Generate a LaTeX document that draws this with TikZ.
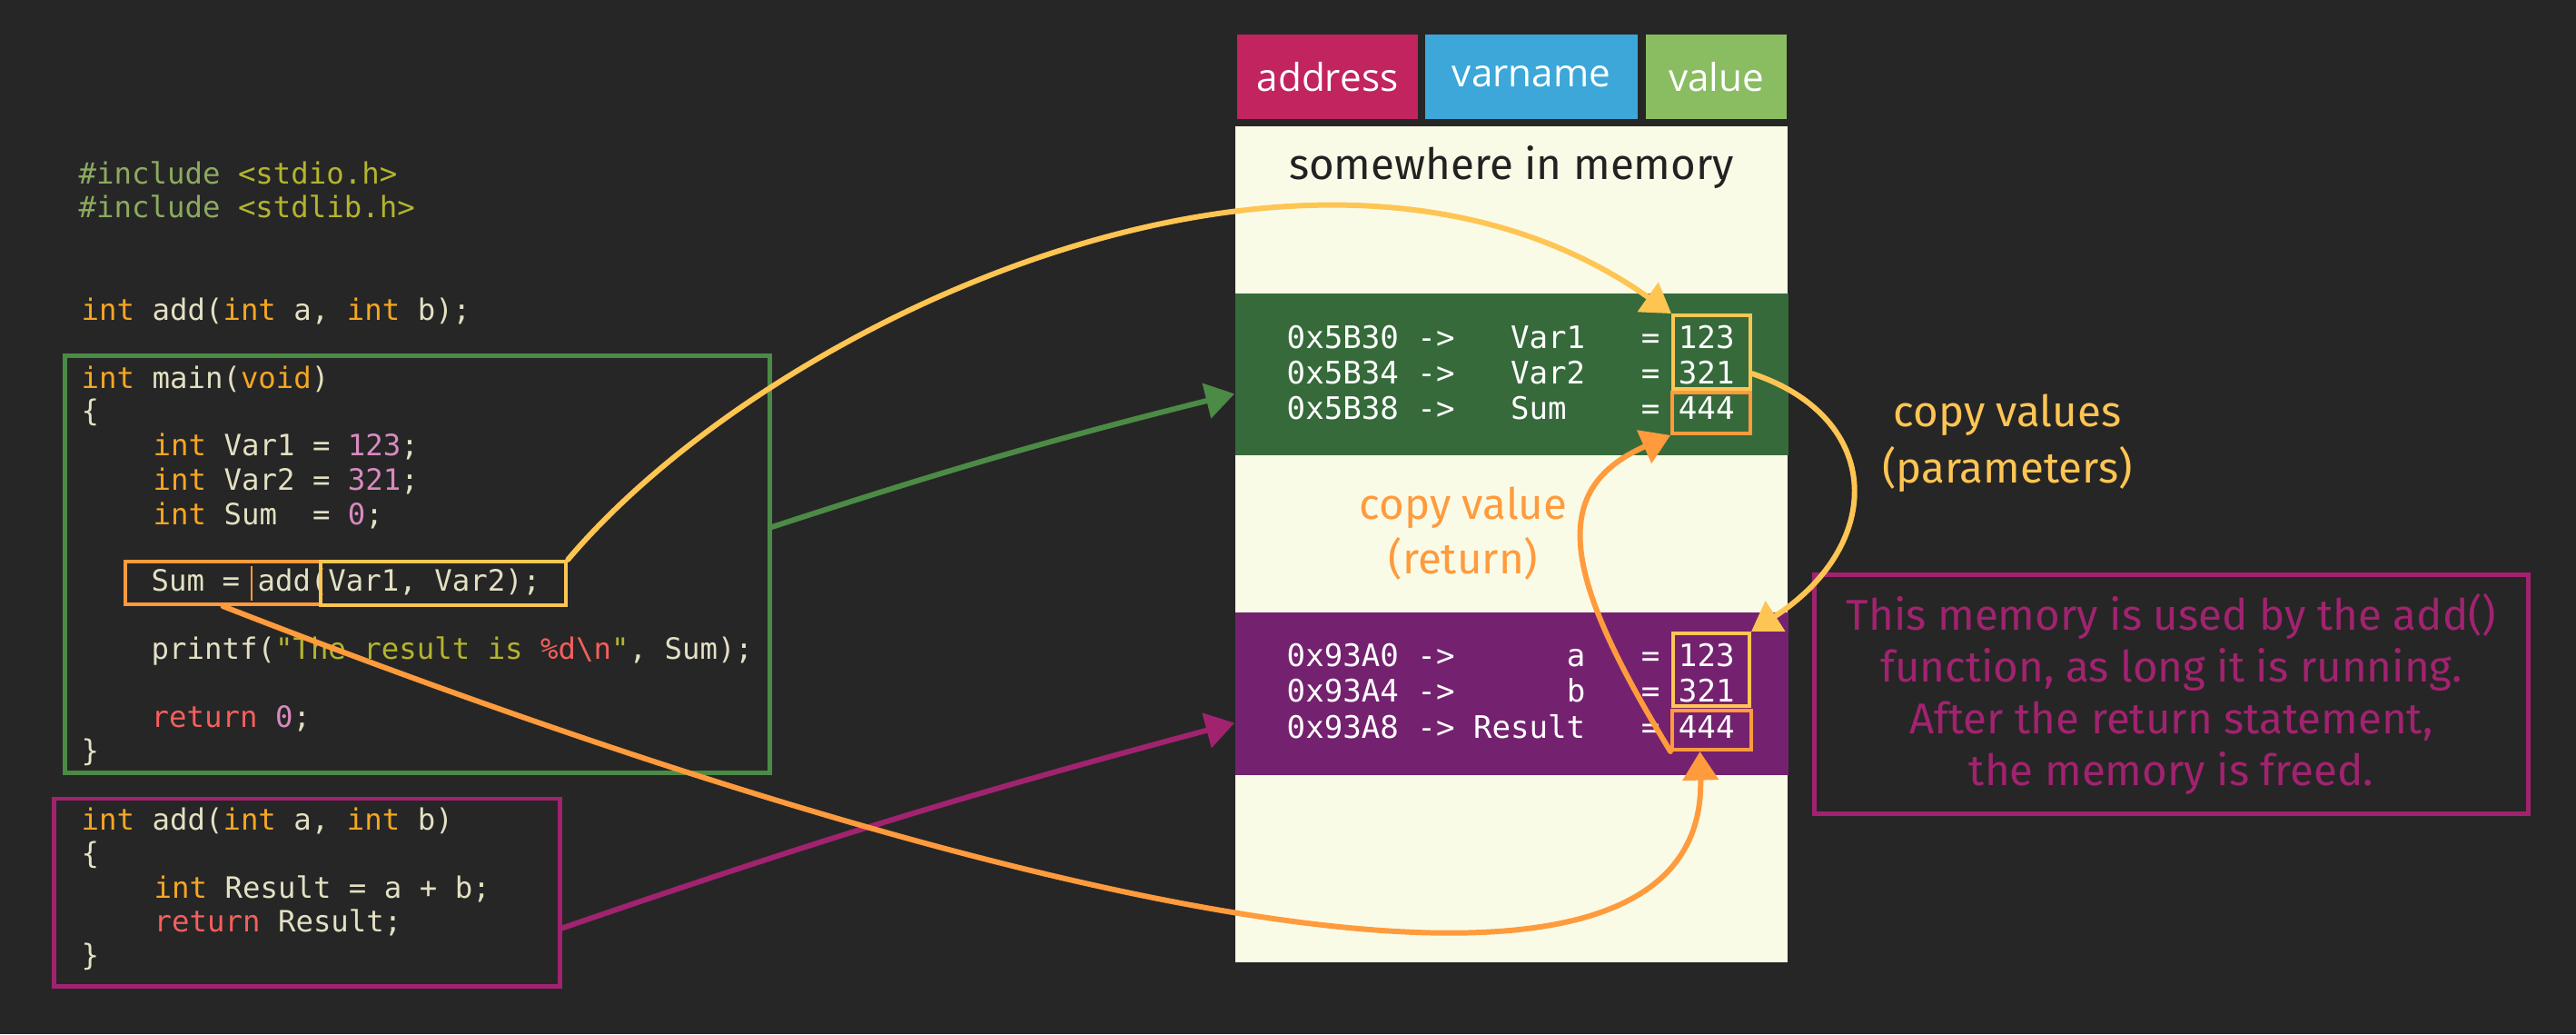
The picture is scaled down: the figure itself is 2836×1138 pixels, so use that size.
\documentclass[tikz,border=0pt]{standalone}
\usepackage{fontspec}
\usepackage{tikz}
\usetikzlibrary{arrows.meta}
\setmonofont{DejaVu Sans Mono}
\newfontfamily\headfont{Open Sans}
\newfontfamily\handfont{Fira Sans}
\definecolor{bgdark}{HTML}{262626}
\definecolor{cinc}{HTML}{8CAA60}
\definecolor{chdr}{HTML}{B4B42E}
\definecolor{ckey}{HTML}{F6A623}
\definecolor{cplain}{HTML}{E3E0C3}
\definecolor{cnum}{HTML}{D88BBF}
\definecolor{cret}{HTML}{F45F5E}
\definecolor{cstr}{HTML}{B4B42E}
\definecolor{cream}{HTML}{FAFBE6}
\definecolor{mgreen}{HTML}{366A3A}
\definecolor{mpurple}{HTML}{74226F}
\definecolor{haddr}{HTML}{C2245F}
\definecolor{hvar}{HTML}{3CA7D8}
\definecolor{hval}{HTML}{8ABD62}
\definecolor{fgreen}{HTML}{4B8B46}
\definecolor{fpurple}{HTML}{A1236F}
\definecolor{cyellow}{HTML}{FFC553}
\definecolor{corange}{HTML}{FF9B3D}
\definecolor{memink}{HTML}{222222}
\newcommand{\codeinc}[1]{\textcolor{cinc}{#1}}
\newcommand{\codehdr}[1]{\textcolor{chdr}{#1}}
\newcommand{\codekw}[1]{\textcolor{ckey}{#1}}
\newcommand{\codenum}[1]{\textcolor{cnum}{#1}}
\newcommand{\coderet}[1]{\textcolor{cret}{#1}}
\newcommand{\codestr}[1]{\textcolor{cstr}{#1}}

\begin{document}
\begin{tikzpicture}[x=0.01cm, y=-0.01cm,
	codeline/.style={anchor=base west, inner sep=0pt, text=cplain, font=\ttfamily\fontsize{9.2}{11}\selectfont},
	rowtext/.style={anchor=base west, inner sep=0pt, text=white, font=\ttfamily\fontsize{9.7}{11.6}\selectfont},
	hand/.style={inner sep=0pt, align=center, font=\handfont\fontsize{13.5}{17}\selectfont},
	header/.style={inner sep=0pt, minimum height=0.93cm, text=white, font=\headfont\fontsize{12}{14}\selectfont},
	band/.style={inner sep=0pt, minimum width=6.09cm, minimum height=1.78cm},
	codebox/.style={draw, line width=1.4pt, inner sep=0pt},
	valbox/.style={draw, line width=1.1pt, inner sep=0pt},
	chalk/.style={line width=1.7pt, line cap=round, -{Triangle[length=9pt,width=11pt]}}]
			\useasboundingbox (0,0) rectangle (2836,1138);
			\fill[bgdark] (0,0) rectangle (2836,1138);
			\node[codeline] (inc1) at (86,202) {\codeinc{\#include} \codehdr{<stdio.h>}};
			\node[codeline] (inc2) at (86,239) {\codeinc{\#include} \codehdr{<stdlib.h>}};
			\node[codeline] (proto) at (89,352) {\codekw{int} add(\codekw{int} a, \codekw{int} b);};
			\node[codeline] (mainhead) at (89,427) {\codekw{int} main(\codekw{void})};
			\node[codeline] (mainopen) at (89,463) {\{};
			\node[codeline] (var1) at (168,501) {\codekw{int} Var1 = \codenum{123};};
			\node[codeline] (var2) at (168,539) {\codekw{int} Var2 = \codenum{321};};
			\node[codeline] (sum) at (168,577) {\codekw{int} Sum~~= \codenum{0};};
			\node[codeline] (call) at (166,650) {Sum = add(Var1, Var2);};
			\node[codeline] (print) at (166,725) {printf(\codestr{"The result is }\coderet{\%d\textbackslash n}\codestr{"}, Sum);};
			\node[codeline] (mainret) at (166,800) {\coderet{return} \codenum{0};};
			\node[codeline] (mainclose) at (89,837) {\}};
			\node[codeline] (addhead) at (89,913) {\codekw{int} add(\codekw{int} a, \codekw{int} b)};
			\node[codeline] (addopen) at (89,950) {\{};
			\node[codeline] (result) at (169,988) {\codekw{int} Result = a + b;};
			\node[codeline] (addret) at (169,1025) {\coderet{return} Result;};
			\node[codeline] (addclose) at (89,1062) {\}};
			\node[codebox, draw=fgreen, minimum width=7.75cm, minimum height=4.58cm] (mainbox) at (459.5,621) {};
			\node[codebox, draw=fpurple, minimum width=5.56cm, minimum height=2.06cm] (addbox) at (338,982) {};
			\node[codebox, draw=corange, line width=1.2pt, minimum width=2.15cm, minimum height=0.47cm] (sumcall) at (245.5,641.5) {};
			\node[codebox, draw=cyellow, line width=1.2pt, minimum width=2.7cm, minimum height=0.48cm] (argcall) at (488,642) {};
			\draw[corange, line width=0.5pt] (277,623) -- (277,661);
			\node[fill=cream, inner sep=0pt, minimum width=6.08cm, minimum height=9.2cm] (memory) at (1664,599) {};
			\node[header, fill=haddr, minimum width=1.99cm] (haddress) at (1461.5,84.5) {address};
			\node[header, fill=hvar, minimum width=2.34cm] (hvarname) at (1686,84.5) {varname};
			\node[header, fill=hval, minimum width=1.55cm] (hvalue) at (1889.5,84.5) {value};
			\node[hand, anchor=base, text=memink] (somewhere) at (1664,197) {somewhere in memory};
			\node[band, fill=mgreen] (mainframe) at (1664.5,412) {};
			\node[band, fill=mpurple] (addframe) at (1664.5,763.5) {};
			\node[rowtext] (rowvar1) at (1416,383) {0x5B30 ->~~~Var1~~~= 123};
			\node[rowtext] (rowvar2) at (1416,422) {0x5B34 ->~~~Var2~~~= 321};
			\node[rowtext] (rowsum) at (1416,461) {0x5B38 ->~~~Sum~~~~= 444};
			\node[rowtext] (rowa) at (1416,733) {0x93A0 ->~~~~~~a~~~= 123};
			\node[rowtext] (rowb) at (1416,772) {0x93A4 ->~~~~~~b~~~= 321};
			\node[rowtext] (rowresult) at (1416,812) {0x93A8 -> Result~~~= 444};
			\node[valbox, draw=cyellow, minimum width=0.85cm, minimum height=0.81cm] (mainargs) at (1884.5,387.5) {};
			\node[valbox, draw=corange, minimum width=0.86cm, minimum height=0.45cm] (mainsum) at (1884,454.5) {};
			\node[valbox, draw=cyellow, minimum width=0.84cm, minimum height=0.8cm] (addargs) at (1884,737) {};
			\node[valbox, draw=corange, minimum width=0.87cm, minimum height=0.43cm] (addres) at (1884.5,803.5) {};
			\node[hand, codebox, draw=fpurple, text=fpurple, minimum width=7.85cm, minimum height=2.62cm, font=\handfont\fontsize{13.5}{16.2}\selectfont] (note) at (2390.5,764) {This memory is used by the add()\\function, as long it is running.\\After the return statement,\\the memory is freed.};
			\node[hand, text=cyellow, font=\handfont\fontsize{13.5}{17.6}\selectfont] (copyvalues) at (2210,488) {copy values\\(parameters)};
			\node[hand, text=corange] (copyvalue) at (1611,587) {copy value\\(return)};
			\draw[chalk, fgreen] (mainbox.6) to[bend left=2] (mainframe.184);
			\draw[chalk, fpurple] (addbox.-8) to[bend left=2] (addframe.186);
			\draw[chalk, cyellow] (argcall.north east) .. controls (850,350) and (1450,70) .. (mainargs.north west);
			\draw[chalk, cyellow] (mainargs.-28) .. controls (2075,460) and (2075,600) .. (addargs.north east);
			\draw[chalk, corange] (addres.south west) .. controls (1725,640) and (1700,540) .. (mainsum.south west);
			\draw[chalk, corange] (sumcall.south) .. controls (1100,1000) and (1880,1180) .. ([xshift=-0.13cm]addres.south);
		\end{tikzpicture}
\end{document}
